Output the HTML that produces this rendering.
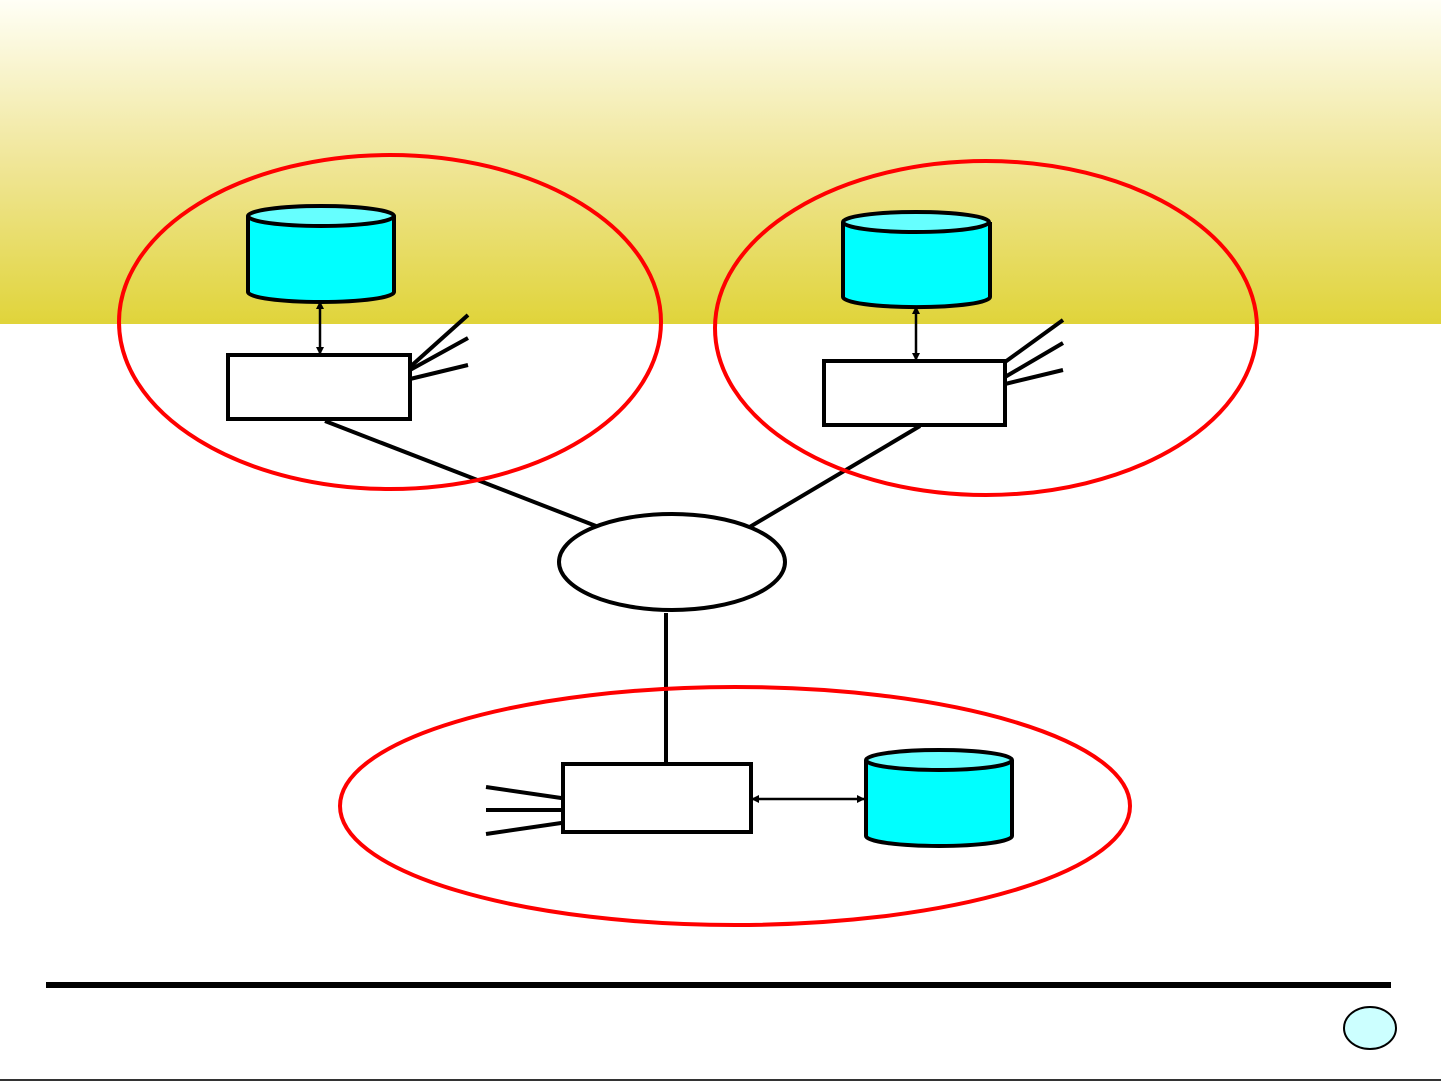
<!DOCTYPE html>
<html><head><style>html,body{margin:0;padding:0;background:#fff}svg{display:block}</style></head><body>
<svg width="1441" height="1081" viewBox="0 0 1441 1081" xmlns="http://www.w3.org/2000/svg">
<defs>
<linearGradient id="g" x1="0" y1="0" x2="0" y2="1">
<stop offset="0" stop-color="#fffff6"/><stop offset="0.5" stop-color="#f0e698"/><stop offset="1" stop-color="#e0d43a"/>
</linearGradient>
<marker id="a" markerWidth="8" markerHeight="8" refX="7" refY="4" orient="auto-start-reverse" markerUnits="userSpaceOnUse"><path d="M0,0 L8,4 L0,8 z" fill="#000"/></marker>
</defs>
<rect x="0" y="0" width="1441" height="324" fill="url(#g)"/>
<g stroke="#000" stroke-width="4" fill="none">
<line x1="325" y1="421" x2="596" y2="526"/>
<line x1="920" y1="426" x2="748" y2="528"/>
<line x1="666" y1="613" x2="666" y2="766"/>
<line x1="410" y1="367" x2="468" y2="315"/><line x1="410" y1="370" x2="468" y2="338"/><line x1="410" y1="379" x2="468" y2="365"/>
<line x1="1005" y1="362" x2="1063" y2="320"/><line x1="1005" y1="377" x2="1063" y2="343"/><line x1="1005" y1="384" x2="1063" y2="370"/>
<line x1="486" y1="787" x2="568" y2="799"/><line x1="486" y1="810" x2="568" y2="810"/><line x1="486" y1="834" x2="568" y2="822"/>
</g>
<g stroke="#000" stroke-width="2.5">
<line x1="320" y1="302" x2="320" y2="354" marker-start="url(#a)" marker-end="url(#a)"/>
<line x1="916" y1="307" x2="916" y2="360" marker-start="url(#a)" marker-end="url(#a)"/>
<line x1="752" y1="799" x2="864" y2="799" marker-start="url(#a)" marker-end="url(#a)"/>
</g>
<g stroke="#000" stroke-width="4" fill="#fff">
<rect x="228" y="355" width="182" height="64"/>
<rect x="824" y="361" width="181" height="64"/>
<rect x="563" y="764" width="188" height="68"/>
<ellipse cx="672" cy="562" rx="113" ry="48"/>
</g>
<g stroke="#000" stroke-width="4">
<path d="M248,216 V292 A73,10 0 0 0 394,292 V216" fill="#00ffff"/>
<ellipse cx="321" cy="216" rx="73" ry="10" fill="#66ffff"/>
<path d="M843,222 V297 A73,10 0 0 0 990,297 V222" fill="#00ffff"/>
<ellipse cx="916" cy="222" rx="73" ry="10" fill="#66ffff"/>
<path d="M866,760 V836 A73,10 0 0 0 1012,836 V760" fill="#00ffff"/>
<ellipse cx="939" cy="760" rx="73" ry="10" fill="#66ffff"/>
</g>
<g stroke="#ff0000" stroke-width="4" fill="none">
<ellipse cx="390" cy="322" rx="271" ry="167"/>
<ellipse cx="986" cy="328" rx="271" ry="167"/>
<ellipse cx="735" cy="806" rx="395" ry="119"/>
</g>
<rect x="46" y="982" width="1345" height="6" fill="#000"/>
<ellipse cx="1370" cy="1028" rx="26" ry="21" fill="#ccffff" stroke="#000" stroke-width="2"/>
<line x1="0" y1="1080" x2="1441" y2="1080" stroke="#333" stroke-width="2"/>
</svg>
</body></html>
